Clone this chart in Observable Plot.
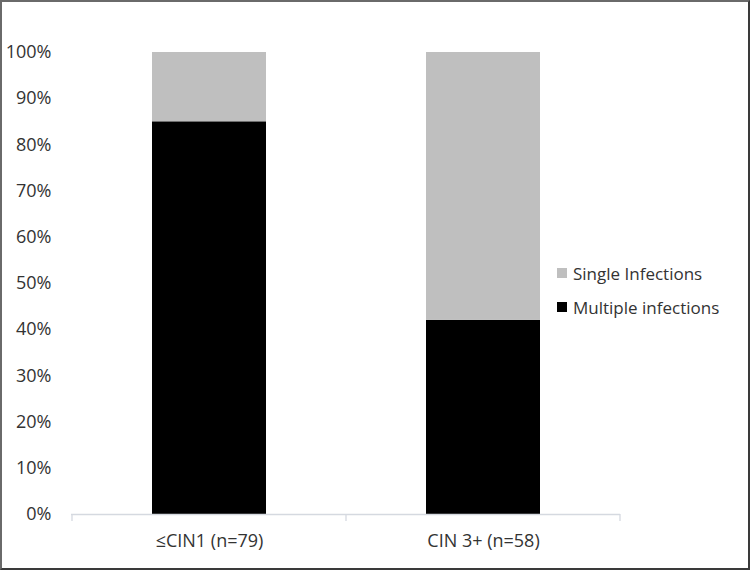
<!DOCTYPE html>
<html>
<head>
<meta charset="utf-8">
<script src="https://cdn.jsdelivr.net/npm/d3@7"></script>
<script src="https://cdn.jsdelivr.net/npm/@observablehq/plot@0.6"></script>
<style>
  html, body { margin: 0; padding: 0; background: #fff; }
  #wrap { position: relative; width: 750px; height: 570px; overflow: hidden; font-family: "Open Sans", sans-serif; }
  #border { position: absolute; left: 0; top: 0; width: 750px; height: 570px; box-sizing: border-box;
            border: 2px solid #6a6a6a; border-right-color: #3a3a3a; border-bottom-color: #3a3a3a; pointer-events: none; }
  #legend { position: absolute; left: 557px; top: 256px; font-size: 17px; color: #333; }
  .item { display: flex; align-items: center; height: 34px; }
  .sw { width: 10px; height: 10px; margin-right: 6px; }
</style>
</head>
<body>
<div id="wrap"><div id="border"></div></div>
<script>
const categories = ["≤CIN1 (n=79)", "CIN 3+ (n=58)"];
const seriesNames = ["Multiple infections", "Single Infections"];
const multipleInfections = [0.85, 0.42];
const singleInfections = [0.15, 0.58];
const seriesColors = ["#000000", "#bfbfbf"];
const yTicks = [0, 0.1, 0.2, 0.3, 0.4, 0.5, 0.6, 0.7, 0.8, 0.9, 1.0];

const rows = [];
categories.forEach((c, i) => {
  rows.push({category: c, series: seriesNames[0], value: multipleInfections[i]});
  rows.push({category: c, series: seriesNames[1], value: singleInfections[i]});
});

const chart = Plot.plot({
  width: 750,
  height: 570,
  marginLeft: 71,
  marginRight: 130,
  marginTop: 52,
  marginBottom: 56,
  style: {fontFamily: "Open Sans, sans-serif", fontSize: "18px", color: "#333", background: "transparent"},
  x: {domain: categories, paddingInner: 0.585, paddingOuter: 0.2925, label: null, tickSize: 0, tickPadding: 20},
  y: {domain: [0, 1], ticks: yTicks, tickFormat: d3.format(".0%"), label: null, tickSize: 0, tickPadding: 20},
  color: {domain: seriesNames, range: seriesColors},
  marks: [
    Plot.barY(rows, {x: "category", y: "value", fill: "series"}),
    Plot.ruleY([0], {stroke: "#d5d9e0", strokeWidth: 1.3})
  ]
});
document.getElementById("wrap").prepend(chart);
chart.style.position = "absolute";
chart.style.left = "0px";
chart.style.top = "0px";

// band boundary tick marks below the category axis, from the x scale
const xs = chart.scale("x"), ys = chart.scale("y");
const gap = xs.step - xs.bandwidth;
const bounds = categories.map(c => xs.apply(c) - gap / 2);
bounds.push(xs.apply(categories[categories.length - 1]) + xs.bandwidth + gap / 2);
const y0 = ys.apply(0);
d3.select(chart).append("g")
  .selectAll("line").data(bounds).join("line")
  .attr("x1", d => d).attr("x2", d => d)
  .attr("y1", y0).attr("y2", y0 + 7)
  .attr("stroke", "#d5d9e0").attr("stroke-width", 1.3);

// legend (Single on top, Multiple below)
const legend = document.createElement("div");
legend.id = "legend";
[1, 0].forEach(i => {
  const item = document.createElement("div");
  item.className = "item";
  const sw = document.createElement("span");
  sw.className = "sw";
  sw.style.background = seriesColors[i];
  const t = document.createElement("span");
  t.textContent = seriesNames[i];
  item.append(sw, t);
  legend.append(item);
});
document.getElementById("wrap").append(legend);
</script>
</body>
</html>
